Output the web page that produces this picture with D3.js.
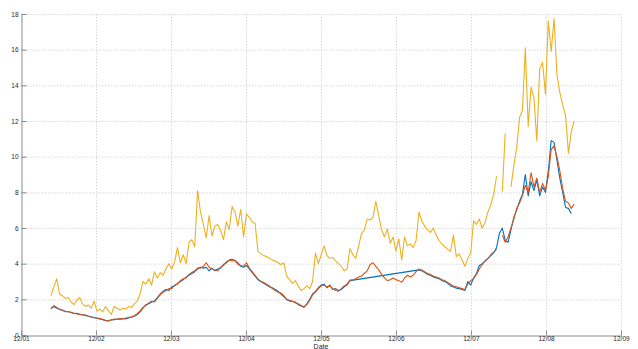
<!DOCTYPE html>
<html>
<head>
<meta charset="utf-8">
<script src="https://cdn.jsdelivr.net/npm/d3@7"></script>
<style>
  html, body { margin: 0; padding: 0; background: #fff; }
  svg { display: block; font-family: Arial, "Liberation Sans", sans-serif; }
</style>
</head>
<body>
<svg id="chart" width="638" height="349"></svg>
<script>
// Fortnightly observation dates, first and last observation
const firstObs = new Date(2002, 3, 26);
const obsCount = 183;
const stepDays = 14;

// Series values (null = no observation)
const seriesYellow = [
  2.2, 2.7, 3.15, 2.3, 2.2, 2.05, 2.1, 1.85, 1.7, 1.95,
  2.1, 1.75, 1.6, 1.68, 1.5, 1.9, 1.35, 1.45, 1.3, 1.6,
  1.35, 1.15, 1.6, 1.5, 1.4, 1.5, 1.45, 1.6, 1.55, 1.75,
  1.9, 2.3, 3.0, 2.85, 3.15, 2.8, 3.55, 3.2, 3.5, 3.35,
  3.7, 4.0, 3.7, 4.1, 4.9, 4.05, 4.5, 4.0, 5.2, 5.35,
  4.95, 8.1, 6.9, 6.2, 5.45, 6.7, 5.55, 6.1, 6.2, 5.85,
  5.35, 6.35, 5.9, 7.2, 6.9, 6.1, 7.05, 5.5, 6.8, 6.6,
  6.35, 6.25, 4.7, 4.55, 4.45, 4.4, 4.3, 4.2, 4.15, 4.05,
  3.95, 4.05, 3.3, 3.1, 2.9, 3.05, 2.75, 2.5, 2.6, 2.75,
  2.6, 3.0, 4.6, 4.0, 4.5, 5.0, 4.45, 4.3, 4.35, 4.15,
  4.0, 3.85, 3.6, 3.7, 4.85, 4.5, 4.3, 4.95, 5.7, 5.9,
  6.5, 6.45, 6.6, 7.5, 6.7, 5.9, 5.5, 5.95, 5.15, 5.5,
  4.7, 5.4, 4.2, 5.5, 5.0, 5.1, 4.9, 5.3, 6.9, 6.4,
  6.1, 5.9, 5.75, 6.0, 5.6, 5.3, 5.1, 4.95, 4.8, 4.7,
  5.6, 4.4, 4.55, 4.2, 3.85, 4.3, 4.6, 6.4, 6.2, 6.5,
  6.0, 6.3, 6.9, 7.3, 7.9, 8.9, null, 8.05, 11.3, null,
  8.3, 9.5, 10.5, 12.2, 12.6, 16.1, 11.7, 13.9, 13.3, 10.9,
  14.9, 15.3, 13.5, 17.6, 15.9, 17.75, 14.6, 13.6, 12.9, 12.3,
  10.2, 11.4, 12.0
];

const seriesOrange = [
  1.45, 1.65, 1.55, 1.42, 1.4, 1.3, 1.32, 1.25, 1.22, 1.18,
  1.17, 1.12, 1.12, 1.06, 1.0, 0.97, 0.95, 0.92, 0.88, 0.82,
  0.78, 0.84, 0.9, 0.88, 0.92, 0.9, 0.95, 0.98, 1.02, 1.08,
  1.2, 1.35, 1.55, 1.65, 1.8, 1.9, 1.85, 2.05, 2.25, 2.4,
  2.5, 2.6, 2.6, 2.8, 2.85, 3.05, 3.15, 3.2, 3.4, 3.5,
  3.6, 3.75, 3.75, 3.85, 4.05, 3.8, 3.7, 3.65, 3.6, 3.8,
  3.9, 4.1, 4.2, 4.15, 4.2, 3.95, 3.9, 3.85, 4.05, 3.75,
  3.55, 3.35, 3.15, 3.0, 2.95, 2.85, 2.75, 2.6, 2.5, 2.4,
  2.35, 2.2, 2.0, 1.95, 1.9, 1.8, 1.75, 1.65, 1.58, 1.7,
  1.95, 2.25, 2.4, 2.6, 2.75, 2.8, 2.7, 2.75, 2.6, 2.5,
  2.45, 2.6, 2.75, 2.85, 3.08, 3.1, 3.15, 3.25, 3.3, 3.45,
  3.6, 3.95, 4.05, 3.85, 3.65, 3.4, 3.2, 3.05, 3.1, 3.2,
  3.1, 3.05, 2.95, 3.2, 3.35, 3.25, 3.35, 3.55, 3.7, 3.65,
  3.55, 3.45, 3.4, 3.3, 3.25, 3.2, 3.1, 3.05, 2.95, 2.85,
  2.75, 2.7, 2.65, 2.6, 2.55, 2.85, 3.05, 3.15, 3.4, 3.7,
  3.95, 4.15, 4.3, 4.5, 4.65, 4.8, null, 5.6, 5.2, 5.5,
  6.0, 6.5, 7.1, 7.4, 7.8, 8.4, 8.0, 9.1, 8.3, 8.8,
  8.0, 8.5, 8.1, 8.9, 10.4, 10.6, 10.0, 9.2, 8.2, 7.5,
  7.4, 7.1, 7.35
];

const seriesBlue = [
  1.5, 1.6, 1.5, 1.45, 1.38, 1.33, 1.3, 1.28, 1.2, 1.22,
  1.15, 1.14, 1.1, 1.05, 1.02, 0.98, 0.93, 0.9, 0.85, 0.8,
  0.8, 0.85, 0.86, 0.9, 0.88, 0.93, 0.9, 0.96, 1.0, 1.05,
  1.15, 1.3, 1.5, 1.7, 1.75, 1.85, 1.9, 2.1, 2.3, 2.45,
  2.55, 2.5, 2.7, 2.75, 2.9, 3.0, 3.1, 3.25, 3.35, 3.45,
  3.55, 3.7, 3.8, 3.75, 3.8, 3.6, 3.75, 3.6, 3.7, 3.75,
  3.95, 4.05, 4.2, 4.25, 4.15, 4.05, 3.85, 3.8, 3.9, 3.7,
  3.5, 3.3, 3.1, 3.0, 2.9, 2.8, 2.7, 2.65, 2.55, 2.45,
  2.3, 2.15, 1.98, 1.9, 1.88, 1.85, 1.7, 1.62, 1.55, 1.75,
  2.0, 2.3, 2.45, 2.65, 2.8, 2.85, 2.65, 2.8, 2.55, 2.6,
  2.5, 2.55, 2.7, 2.8, 3.05, null, null, null, null, null,
  null, null, null, null, null, null, null, null, null, null,
  null, null, null, null, null, null, null, null, 3.65, 3.6,
  3.5, 3.4, 3.35, 3.25, 3.2, 3.15, 3.05, 3.0, 2.9, 2.75,
  2.7, 2.62, 2.6, 2.55, 2.5, 3.0, 2.8, 3.2, 3.45, 3.9,
  4.0, 4.15, 4.3, 4.45, 4.6, 4.9, 5.7, 6.0, 5.3, 5.2,
  5.9, 6.6, 7.0, 7.5, 7.9, 9.0, 7.8, 8.6, 8.1, 8.7,
  7.8, 8.3, 8.0, 9.2, 10.9, 10.8, 9.8, 8.8, 8.0, 7.15,
  7.1, 6.8, null
];

const yTicks = [0, 2, 4, 6, 8, 10, 12, 14, 16, 18];
const xTickYears = [2001, 2002, 2003, 2004, 2005, 2006, 2007, 2008, 2009];
const xAxisTitle = "Date";

const colors = { blue: "#0072BD", orange: "#D95319", yellow: "#EDB120" };

const dates = d3.range(obsCount).map(i => d3.timeDay.offset(firstObs, i * stepDays));

const svg = d3.select("#chart");
const plot = { left: 21, right: 621, top: 14, bottom: 335 };

const x = d3.scaleTime()
  .domain([new Date(2001, 11, 1), new Date(2009, 11, 1)])
  .range([plot.left, plot.right]);
const y = d3.scaleLinear().domain([0, 18]).range([plot.bottom, plot.top]);

const xTickDates = xTickYears.map(yr => new Date(yr, 11, 1));
const fmt = d3.timeFormat("%m/%y");

// dotted grid
const grid = svg.append("g").attr("stroke", "#cfcfcf").attr("stroke-width", 0.8)
  .attr("stroke-dasharray", "1.5,1.5");
grid.selectAll(".gy").data(yTicks.filter(v => v > 0)).join("line")
  .attr("x1", plot.left).attr("x2", plot.right)
  .attr("y1", d => y(d) + 0.5).attr("y2", d => y(d) + 0.5);
grid.selectAll(".gx").data(xTickDates.slice(1)).join("line")
  .attr("y1", plot.top).attr("y2", plot.bottom)
  .attr("x1", d => Math.round(x(d)) + 0.5).attr("x2", d => Math.round(x(d)) + 0.5);

// axes
const xAxis = d3.axisBottom(x).tickValues(xTickDates).tickFormat(fmt)
  .tickSizeInner(-5).tickSizeOuter(0).tickPadding(5);
const yAxis = d3.axisLeft(y).tickValues(yTicks).tickFormat(d3.format("d"))
  .tickSizeInner(-5).tickSizeOuter(0).tickPadding(3);

const gx = svg.append("g").attr("transform", `translate(0,${plot.bottom + 0.5})`).call(xAxis);
const gy = svg.append("g").attr("transform", `translate(${plot.left + 0.5},0)`).call(yAxis);
[gx, gy].forEach(g => {
  g.select(".domain").attr("stroke", "#8a8a8a").attr("stroke-width", 1);
  g.selectAll(".tick line").attr("stroke", "#8a8a8a");
  g.selectAll(".tick text").attr("fill", "#262626").attr("font-size", 6.5)
    .attr("font-family", "Arial, 'Liberation Sans', sans-serif");
});
gx.selectAll(".tick text").attr("dy", "0");

svg.append("text")
  .attr("x", (plot.left + plot.right) / 2)
  .attr("y", 348.5)
  .attr("text-anchor", "middle")
  .attr("font-size", 7)
  .attr("fill", "#262626")
  .text(xAxisTitle);

// series lines
const lineBroken = d3.line()
  .defined(d => d.v != null)
  .x(d => x(d.t)).y(d => y(d.v));

const toPoints = arr => arr.map((v, i) => ({ t: dates[i], v }));

const lines = svg.append("g").attr("fill", "none").attr("stroke-width", 1.1)
  .attr("stroke-linejoin", "round");

// blue series: missing observations are skipped, so the line bridges them
lines.append("path")
  .attr("d", lineBroken(toPoints(seriesBlue).filter(d => d.v != null)))
  .attr("stroke", colors.blue);
lines.append("path")
  .attr("d", lineBroken(toPoints(seriesOrange)))
  .attr("stroke", colors.orange);
lines.append("path")
  .attr("d", lineBroken(toPoints(seriesYellow)))
  .attr("stroke", colors.yellow);
</script>
</body>
</html>
